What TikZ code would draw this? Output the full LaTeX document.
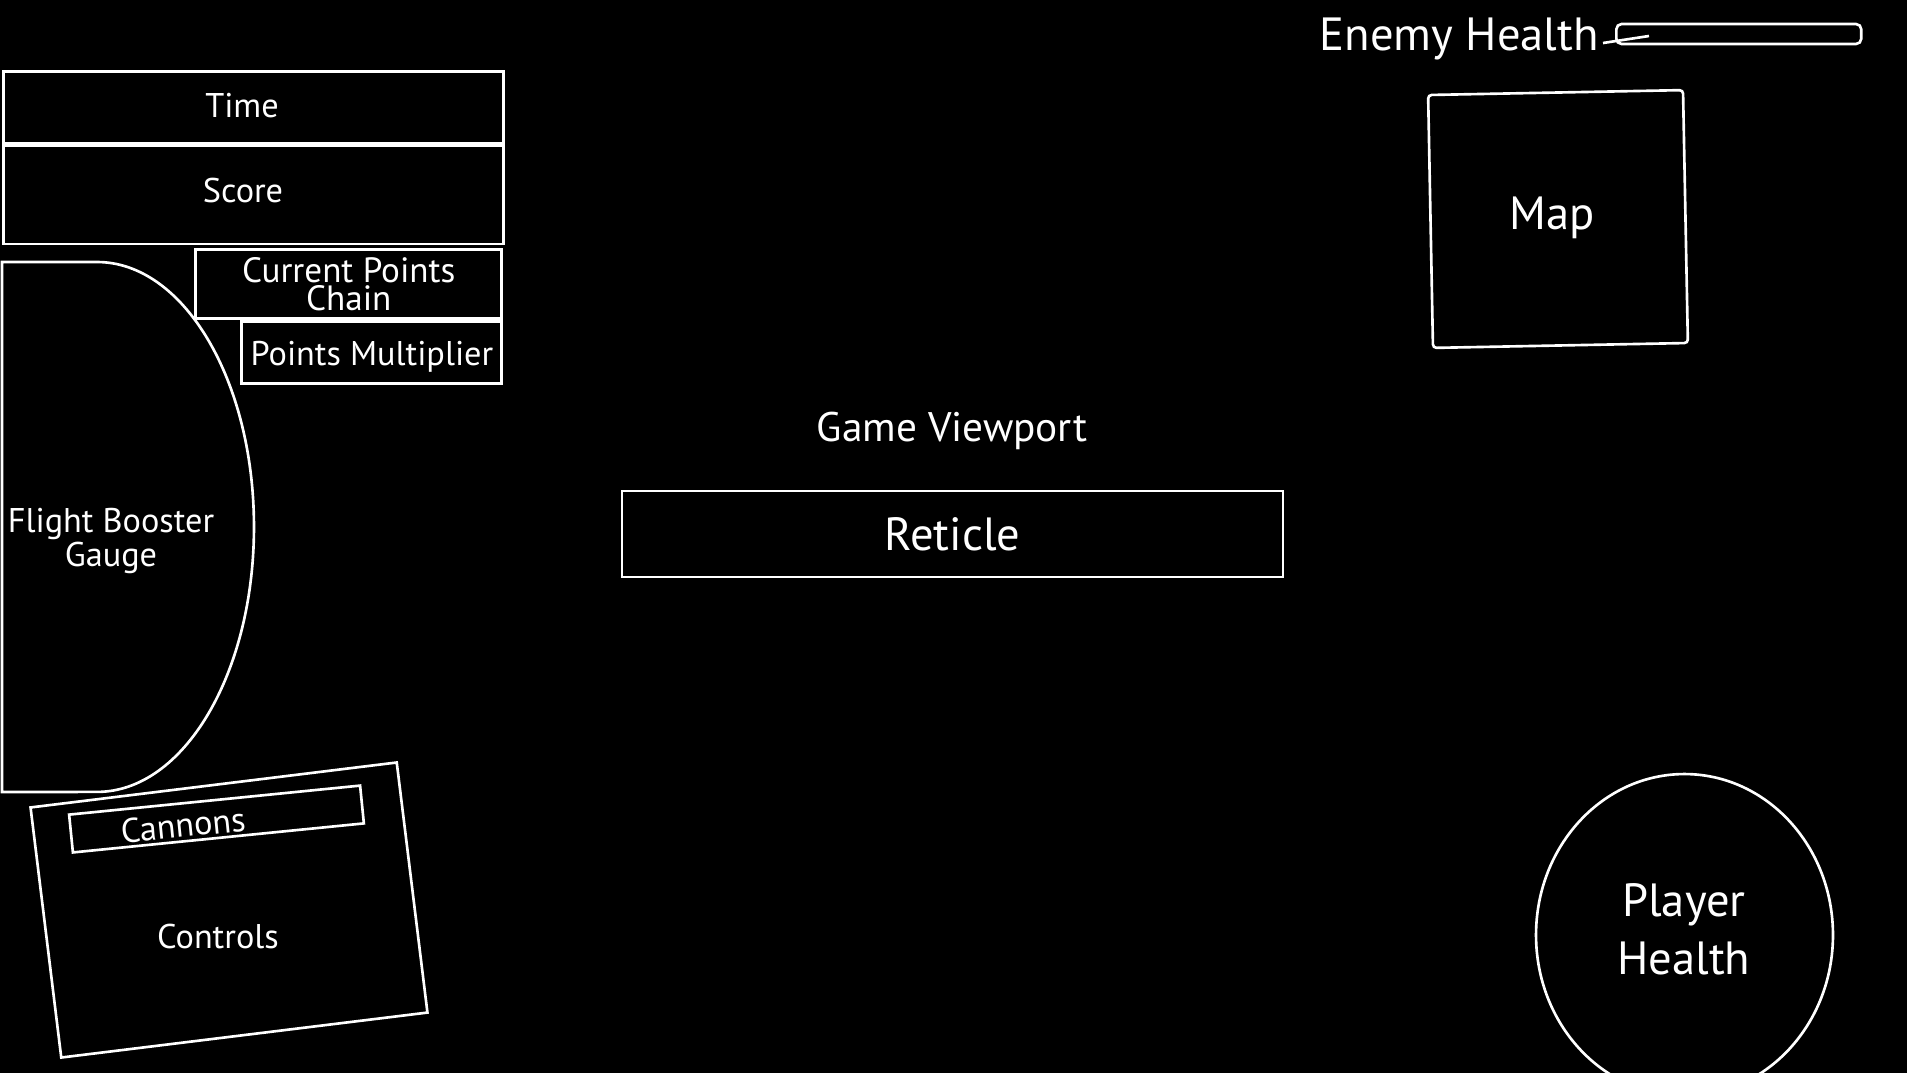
\documentclass[tikz,border=0pt]{standalone}
\usepackage{fontspec}
\setmainfont{PT Sans}
\usepackage{tikz}
\usetikzlibrary{shapes.geometric}

\newcommand{\hudsmall}{\fontsize{19.5}{16}\selectfont}
\newcommand{\hudmid}{\fontsize{23.5}{26}\selectfont}
\newcommand{\hudbig}{\fontsize{26.5}{33}\selectfont}

\tikzset{
  hudbox/.style={draw, rectangle, inner sep=0pt, align=center}
}

\begin{document}
\begin{tikzpicture}[x=0.02cm, y=-0.02cm, white, line width=1.5pt]
    % Screen area (pixel units, y pointing down)
    \fill[black] (0,0) rectangle (1907,1073);
    \useasboundingbox (0,0) rectangle (1907,1073);
    \clip (0,0) rectangle (1907,1073);

    % Time and score panel
    \node[hudbox, minimum width=10cm, minimum height=1.44cm, anchor=north west] (timebox) at (2,70) {};
    \node[hudbox, minimum width=10cm, minimum height=1.96cm, anchor=north] (scorebox) at (timebox.south) {};
    \node[font=\hudsmall] (time) at (242,106) {Time};
    \node[font=\hudsmall] (score) at (243,190) {Score};

    % Points boxes
    \node[hudbox, minimum width=6.12cm, minimum height=1.38cm, anchor=north east, font=\fontsize{20}{16}\selectfont] (chain) at (503,248) {Current Points\\Chain};
    \node[hudbox, minimum width=5.2cm, minimum height=1.24cm, anchor=north east] (multbox) at (503,320) {};
    \node[font=\hudsmall] (multiplier) at (372,357) {Points Multiplier};

    % Flight booster gauge
    \draw (2,262) -- (97,262) arc[start angle=90, end angle=-90, x radius=3.14cm, y radius=5.3cm] -- (2,792) -- cycle;
    \node[font=\fontsize{19.5}{14.5}\selectfont, align=center] (gauge) at (111,541) {Flight Booster\\Gauge};

    % Controls with cannons
    \node[hudbox, minimum width=7.38cm, minimum height=5.04cm, rotate=7] (controls) at (229,910) {};
    \node[font=\hudsmall] (controlslabel) at (218,936) {Controls};
    \node[hudbox, minimum width=5.85cm, minimum height=0.76cm, rotate=5.7] (cannons) at (216.5,819) {};
    \node[font=\hudsmall, rotate=5.7] (cannonslabel) at (183,825) {Cannons};

    % Game viewport and reticle
    \node[font=\hudmid] (viewport) at (952,431) {Game Viewport};
    \node[hudbox, minimum width=13.22cm, minimum height=1.72cm, font=\hudbig] (reticle) at (952.5,534) {Reticle};

    % Map
    \node[hudbox, minimum width=5.1cm, minimum height=5.06cm, rotate=1.1, rounded corners=2pt] (mapbox) at (1558,219) {};
    \node[font=\hudbig] (map) at (1552,218) {Map};

    % Enemy health bar
    \node[font=\hudbig, anchor=base east, inner sep=0pt] (enemy) at (1600,50) {Enemy Health};
    \node[hudbox, minimum width=4.9cm, minimum height=0.4cm, rounded corners=3pt, anchor=west] (enemybar) at (1615,34) {};
    \coordinate (tickstart) at (1603,43);
    \coordinate (tickend) at (1649,36);
    \draw (tickstart) -- (tickend);

    % Player health
    \node[draw, ellipse, minimum width=5.94cm, minimum height=6.44cm, inner sep=0pt] (playerring) at (1684.5,935) {};
    \node[font=\hudbig, align=center] (player) at (1684,929) {Player\\Health};
\end{tikzpicture}
\end{document}
